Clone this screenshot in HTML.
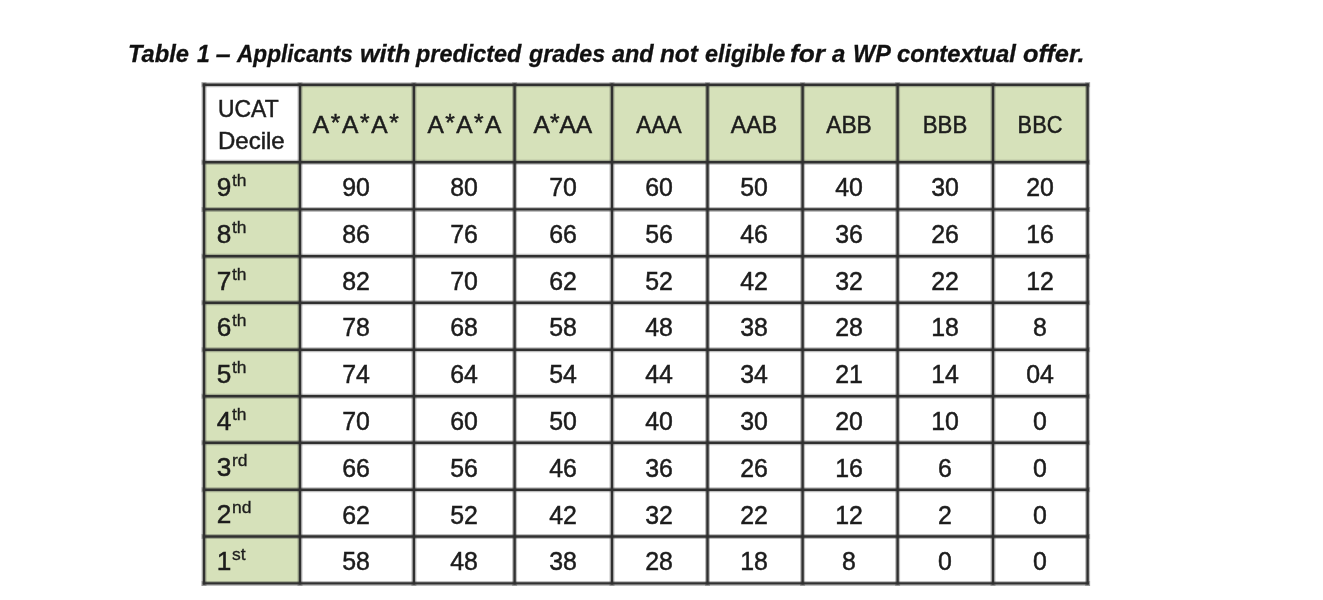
<!DOCTYPE html><html><head><meta charset="utf-8"><style>
html,body{margin:0;padding:0;background:#fff;width:1323px;height:600px;overflow:hidden;}
body{position:relative;font-family:"Liberation Sans",sans-serif;color:#1c1c1c;}
#wrap{position:absolute;left:0;top:0;width:1323px;height:600px;filter:blur(0.45px);}
.t{position:absolute;line-height:1;white-space:nowrap;font-size:24.5px;-webkit-text-stroke:0.5px #1c1c1c;}
.d{font-size:26.2px;text-align:center;width:80px;margin-left:-40px;transform:scaleX(0.95);}
.h{width:120px;margin-left:-60px;text-align:center;}
.s{font-size:15.6px;position:relative;display:inline-block;transform:scaleX(1.12);transform-origin:0 0;margin-left:1px;-webkit-text-stroke:0.3px #1c1c1c;}
.ast{position:relative;top:-1.6px;}
.tw{position:absolute;line-height:1;font-size:23.6px;font-weight:bold;font-style:italic;white-space:nowrap;color:#111;-webkit-text-stroke:0.3px #111;}
</style></head><body><div id="wrap">
<div class="tw" style="left:128.40px;top:42.52px;transform:scaleX(1.0017);transform-origin:2px 0">Table</div>
<div class="tw" style="left:196.70px;top:42.52px;transform:scaleX(0.9750);transform-origin:0px 0">1</div>
<div class="tw" style="left:215.60px;top:42.52px;transform:scaleX(1.1333);transform-origin:1px 0">&#8211;</div>
<div class="tw" style="left:236.60px;top:42.52px;transform:scaleX(0.9600);transform-origin:0px 0">Applicants</div>
<div class="tw" style="left:360.30px;top:42.52px;transform:scaleX(1.0689);transform-origin:1px 0">with</div>
<div class="tw" style="left:415.80px;top:42.52px;transform:scaleX(0.9916);transform-origin:0px 0">predicted</div>
<div class="tw" style="left:529.20px;top:42.52px;transform:scaleX(0.9842);transform-origin:0px 0">grades</div>
<div class="tw" style="left:612.20px;top:42.52px;transform:scaleX(0.9929);transform-origin:0px 0">and</div>
<div class="tw" style="left:660.20px;top:42.52px;transform:scaleX(1.0333);transform-origin:1px 0">not</div>
<div class="tw" style="left:704.60px;top:42.52px;transform:scaleX(0.9862);transform-origin:1px 0">eligible</div>
<div class="tw" style="left:789.90px;top:42.52px;transform:scaleX(1.1129);transform-origin:1px 0">for</div>
<div class="tw" style="left:832.20px;top:42.52px;transform:scaleX(1.0167);transform-origin:0px 0">a</div>
<div class="tw" style="left:852.60px;top:42.52px;transform:scaleX(0.9944);transform-origin:2px 0">WP</div>
<div class="tw" style="left:896.60px;top:42.52px;transform:scaleX(1.0077);transform-origin:1px 0">contextual</div>
<div class="tw" style="left:1022.70px;top:42.52px;transform:scaleX(1.0741);transform-origin:1px 0">offer.</div>
<svg width="1323" height="600" style="position:absolute;left:0;top:0"><rect x="300.00" y="84.70" width="787.60" height="77.60" fill="#d6e1ba"/><rect x="204.00" y="162.30" width="96.00" height="421.10" fill="#d6e1ba"/><g stroke="#303030" stroke-width="5.00" stroke-opacity="0.30"><line x1="204.00" y1="82.20" x2="204.00" y2="585.90"/><line x1="300.00" y1="82.20" x2="300.00" y2="585.90"/><line x1="413.90" y1="82.20" x2="413.90" y2="585.90"/><line x1="514.60" y1="82.20" x2="514.60" y2="585.90"/><line x1="612.00" y1="82.20" x2="612.00" y2="585.90"/><line x1="707.50" y1="82.20" x2="707.50" y2="585.90"/><line x1="802.60" y1="82.20" x2="802.60" y2="585.90"/><line x1="897.60" y1="82.20" x2="897.60" y2="585.90"/><line x1="993.00" y1="82.20" x2="993.00" y2="585.90"/><line x1="1087.60" y1="82.20" x2="1087.60" y2="585.90"/><line x1="201.50" y1="84.70" x2="1090.10" y2="84.70"/><line x1="201.50" y1="162.30" x2="1090.10" y2="162.30"/><line x1="201.50" y1="209.40" x2="1090.10" y2="209.40"/><line x1="201.50" y1="256.20" x2="1090.10" y2="256.20"/><line x1="201.50" y1="302.70" x2="1090.10" y2="302.70"/><line x1="201.50" y1="349.70" x2="1090.10" y2="349.70"/><line x1="201.50" y1="396.20" x2="1090.10" y2="396.20"/><line x1="201.50" y1="442.80" x2="1090.10" y2="442.80"/><line x1="201.50" y1="489.80" x2="1090.10" y2="489.80"/><line x1="201.50" y1="536.50" x2="1090.10" y2="536.50"/><line x1="201.50" y1="583.40" x2="1090.10" y2="583.40"/></g><g stroke="#303030" stroke-width="2.40" stroke-opacity="1.00"><line x1="204.00" y1="83.50" x2="204.00" y2="584.60"/><line x1="300.00" y1="83.50" x2="300.00" y2="584.60"/><line x1="413.90" y1="83.50" x2="413.90" y2="584.60"/><line x1="514.60" y1="83.50" x2="514.60" y2="584.60"/><line x1="612.00" y1="83.50" x2="612.00" y2="584.60"/><line x1="707.50" y1="83.50" x2="707.50" y2="584.60"/><line x1="802.60" y1="83.50" x2="802.60" y2="584.60"/><line x1="897.60" y1="83.50" x2="897.60" y2="584.60"/><line x1="993.00" y1="83.50" x2="993.00" y2="584.60"/><line x1="1087.60" y1="83.50" x2="1087.60" y2="584.60"/><line x1="202.80" y1="84.70" x2="1088.80" y2="84.70"/><line x1="202.80" y1="162.30" x2="1088.80" y2="162.30"/><line x1="202.80" y1="209.40" x2="1088.80" y2="209.40"/><line x1="202.80" y1="256.20" x2="1088.80" y2="256.20"/><line x1="202.80" y1="302.70" x2="1088.80" y2="302.70"/><line x1="202.80" y1="349.70" x2="1088.80" y2="349.70"/><line x1="202.80" y1="396.20" x2="1088.80" y2="396.20"/><line x1="202.80" y1="442.80" x2="1088.80" y2="442.80"/><line x1="202.80" y1="489.80" x2="1088.80" y2="489.80"/><line x1="202.80" y1="536.50" x2="1088.80" y2="536.50"/><line x1="202.80" y1="583.40" x2="1088.80" y2="583.40"/></g></svg>
<div class="t h" style="left:355.80px;top:112.76px;letter-spacing:1.64px;text-indent:1.64px">A<span class="ast">*</span>A<span class="ast">*</span>A<span class="ast">*</span></div>
<div class="t h" style="left:464.50px;top:112.76px;letter-spacing:1.45px;text-indent:1.45px">A<span class="ast">*</span>A<span class="ast">*</span>A</div>
<div class="t h" style="left:562.90px;top:112.76px;transform:scaleX(1.000)">A<span class="ast">*</span>AA</div>
<div class="t h" style="left:659.15px;top:112.76px;transform:scaleX(0.924)">AAA</div>
<div class="t h" style="left:754.40px;top:112.76px;transform:scaleX(0.946)">AAB</div>
<div class="t h" style="left:849.10px;top:112.76px;transform:scaleX(0.929)">ABB</div>
<div class="t h" style="left:945.25px;top:112.76px;transform:scaleX(0.907)">BBB</div>
<div class="t h" style="left:1040.00px;top:112.76px;transform:scaleX(0.888)">BBC</div>
<div class="t" style="left:217.5px;top:96.56px;transform-origin:0 0;transform:scaleX(0.935)">UCAT</div>
<div class="t" style="left:217.5px;top:129.06px;transform-origin:0 0;transform:scaleX(0.98)">Decile</div>
<div class="t" style="left:216.8px;top:173.62px;font-size:26.2px">9<span class="s" style="top:-9.70px">th</span></div>
<div class="t d" style="left:356.25px;top:174.02px">90</div>
<div class="t d" style="left:463.55px;top:174.02px">80</div>
<div class="t d" style="left:562.60px;top:174.02px">70</div>
<div class="t d" style="left:659.05px;top:174.02px">60</div>
<div class="t d" style="left:754.35px;top:174.02px">50</div>
<div class="t d" style="left:849.40px;top:174.02px">40</div>
<div class="t d" style="left:944.60px;top:174.02px">30</div>
<div class="t d" style="left:1039.60px;top:174.02px">20</div>
<div class="t" style="left:216.8px;top:220.72px;font-size:26.2px">8<span class="s" style="top:-9.70px">th</span></div>
<div class="t d" style="left:356.25px;top:221.12px">86</div>
<div class="t d" style="left:463.55px;top:221.12px">76</div>
<div class="t d" style="left:562.60px;top:221.12px">66</div>
<div class="t d" style="left:659.05px;top:221.12px">56</div>
<div class="t d" style="left:754.35px;top:221.12px">46</div>
<div class="t d" style="left:849.40px;top:221.12px">36</div>
<div class="t d" style="left:944.60px;top:221.12px">26</div>
<div class="t d" style="left:1039.60px;top:221.12px">16</div>
<div class="t" style="left:216.8px;top:267.52px;font-size:26.2px">7<span class="s" style="top:-9.70px">th</span></div>
<div class="t d" style="left:356.25px;top:267.92px">82</div>
<div class="t d" style="left:463.55px;top:267.92px">70</div>
<div class="t d" style="left:562.60px;top:267.92px">62</div>
<div class="t d" style="left:659.05px;top:267.92px">52</div>
<div class="t d" style="left:754.35px;top:267.92px">42</div>
<div class="t d" style="left:849.40px;top:267.92px">32</div>
<div class="t d" style="left:944.60px;top:267.92px">22</div>
<div class="t d" style="left:1039.60px;top:267.92px">12</div>
<div class="t" style="left:216.8px;top:314.02px;font-size:26.2px">6<span class="s" style="top:-9.70px">th</span></div>
<div class="t d" style="left:356.25px;top:314.42px">78</div>
<div class="t d" style="left:463.55px;top:314.42px">68</div>
<div class="t d" style="left:562.60px;top:314.42px">58</div>
<div class="t d" style="left:659.05px;top:314.42px">48</div>
<div class="t d" style="left:754.35px;top:314.42px">38</div>
<div class="t d" style="left:849.40px;top:314.42px">28</div>
<div class="t d" style="left:944.60px;top:314.42px">18</div>
<div class="t d" style="left:1039.60px;top:314.42px">8</div>
<div class="t" style="left:216.8px;top:361.02px;font-size:26.2px">5<span class="s" style="top:-9.70px">th</span></div>
<div class="t d" style="left:356.25px;top:361.42px">74</div>
<div class="t d" style="left:463.55px;top:361.42px">64</div>
<div class="t d" style="left:562.60px;top:361.42px">54</div>
<div class="t d" style="left:659.05px;top:361.42px">44</div>
<div class="t d" style="left:754.35px;top:361.42px">34</div>
<div class="t d" style="left:849.40px;top:361.42px">21</div>
<div class="t d" style="left:944.60px;top:361.42px">14</div>
<div class="t d" style="left:1039.60px;top:361.42px">04</div>
<div class="t" style="left:216.8px;top:407.52px;font-size:26.2px">4<span class="s" style="top:-9.70px">th</span></div>
<div class="t d" style="left:356.25px;top:407.92px">70</div>
<div class="t d" style="left:463.55px;top:407.92px">60</div>
<div class="t d" style="left:562.60px;top:407.92px">50</div>
<div class="t d" style="left:659.05px;top:407.92px">40</div>
<div class="t d" style="left:754.35px;top:407.92px">30</div>
<div class="t d" style="left:849.40px;top:407.92px">20</div>
<div class="t d" style="left:944.60px;top:407.92px">10</div>
<div class="t d" style="left:1039.60px;top:407.92px">0</div>
<div class="t" style="left:216.8px;top:454.12px;font-size:26.2px">3<span class="s" style="top:-9.70px">rd</span></div>
<div class="t d" style="left:356.25px;top:454.52px">66</div>
<div class="t d" style="left:463.55px;top:454.52px">56</div>
<div class="t d" style="left:562.60px;top:454.52px">46</div>
<div class="t d" style="left:659.05px;top:454.52px">36</div>
<div class="t d" style="left:754.35px;top:454.52px">26</div>
<div class="t d" style="left:849.40px;top:454.52px">16</div>
<div class="t d" style="left:944.60px;top:454.52px">6</div>
<div class="t d" style="left:1039.60px;top:454.52px">0</div>
<div class="t" style="left:216.8px;top:501.12px;font-size:26.2px">2<span class="s" style="top:-9.70px">nd</span></div>
<div class="t d" style="left:356.25px;top:501.52px">62</div>
<div class="t d" style="left:463.55px;top:501.52px">52</div>
<div class="t d" style="left:562.60px;top:501.52px">42</div>
<div class="t d" style="left:659.05px;top:501.52px">32</div>
<div class="t d" style="left:754.35px;top:501.52px">22</div>
<div class="t d" style="left:849.40px;top:501.52px">12</div>
<div class="t d" style="left:944.60px;top:501.52px">2</div>
<div class="t d" style="left:1039.60px;top:501.52px">0</div>
<div class="t" style="left:216.8px;top:547.82px;font-size:26.2px">1<span class="s" style="top:-9.70px">st</span></div>
<div class="t d" style="left:356.25px;top:548.22px">58</div>
<div class="t d" style="left:463.55px;top:548.22px">48</div>
<div class="t d" style="left:562.60px;top:548.22px">38</div>
<div class="t d" style="left:659.05px;top:548.22px">28</div>
<div class="t d" style="left:754.35px;top:548.22px">18</div>
<div class="t d" style="left:849.40px;top:548.22px">8</div>
<div class="t d" style="left:944.60px;top:548.22px">0</div>
<div class="t d" style="left:1039.60px;top:548.22px">0</div>
</div></body></html>
